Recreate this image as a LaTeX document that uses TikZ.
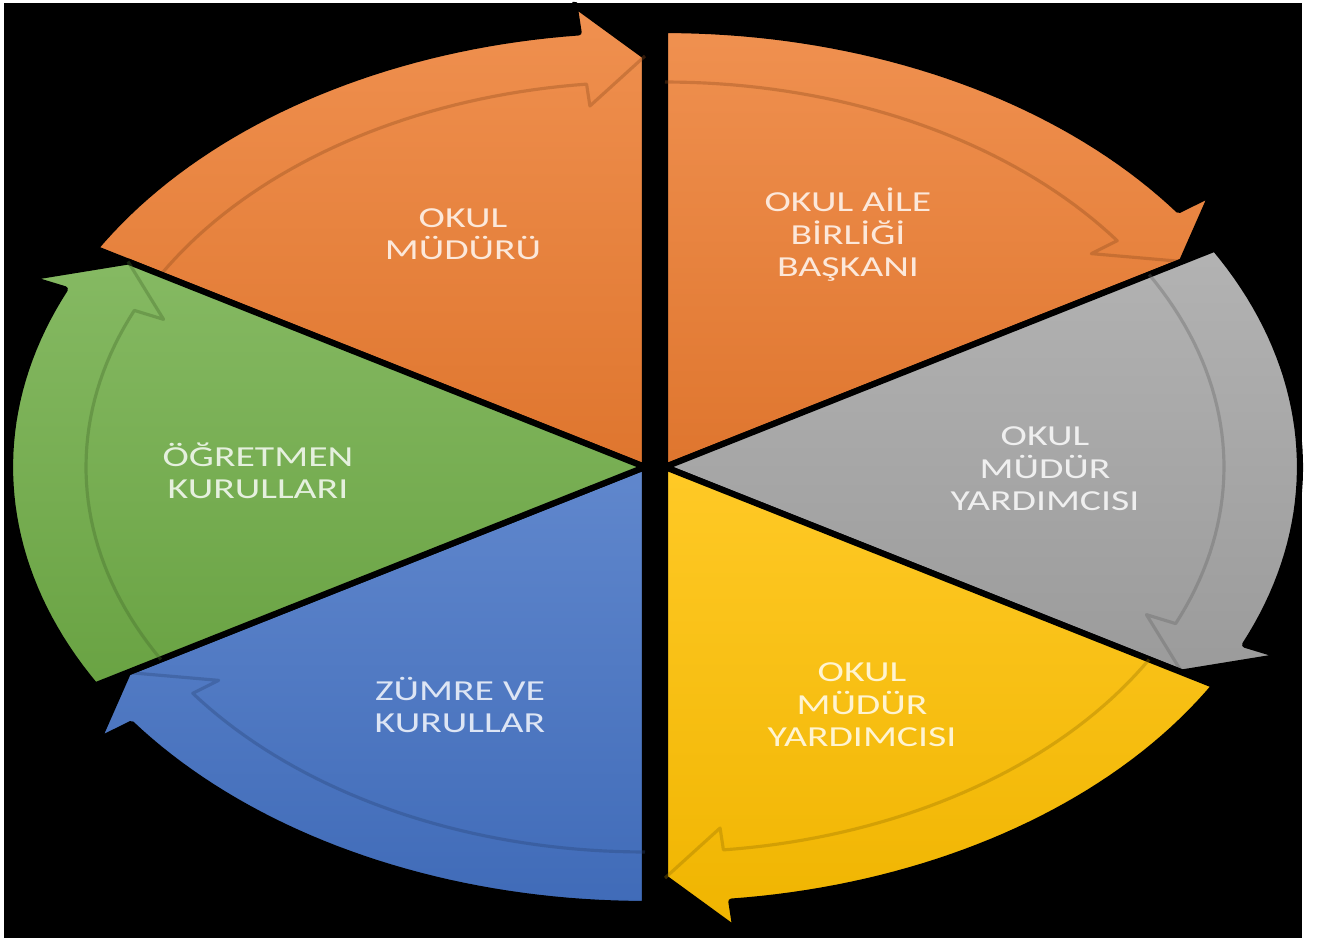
\documentclass[tikz,border=0pt]{standalone}
\usepackage{fontspec}
\setmainfont{Carlito}

\definecolor{segorange}{HTML}{ED7D31}
\definecolor{seggray}{HTML}{A5A5A5}
\definecolor{segyellow}{HTML}{FFC000}
\definecolor{segblue}{HTML}{4472C4}
\definecolor{seggreen}{HTML}{70AD47}

\tikzset{
  segpiece/.style={draw=black, line width=3.5pt, line join=round},
  segshadow/.style={line width=1.8pt, opacity=0.35, line join=round},
  seglabel/.style={align=center, font=\fontsize{16.5}{18.5}\selectfont, xscale=1.37, transform shape}
}

% one slice of the cycle: start angle, end angle, colour, shift
\newcommand{\cycleseg}[4]{%
  \begin{scope}[shift={(#4,0)}]
    \path[segpiece, top color=#3!85!white, bottom color=#3!94!black]
      (0,0) -- plot[domain=#1:#2+6, samples=40, variable=\t] ({635*cos(\t)},{437*sin(\t)})
      -- ({676*cos(#2+6)},{465*sin(#2+6)}) -- ({597*cos(#2)},{411*sin(#2)}) -- cycle;
    \draw[segshadow, #3!60!black]
      plot[domain=#1:#2+6, samples=40, variable=\t] ({559*cos(\t)},{385*sin(\t)})
      -- ({527*cos(#2+6)},{363*sin(#2+6)}) -- ({597*cos(#2)},{411*sin(#2)});
  \end{scope}}

\begin{document}
\begin{tikzpicture}[x=0.02cm, y=0.02cm]
    % Background:
    \useasboundingbox (-655,-470) rectangle (663,467);
    \fill[white] (-655,-470) rectangle (663,467);
    \fill[black] (-651,-475) rectangle (647,464);
    % Drawing:
    \cycleseg{150}{90}{segorange}{-10}
    \cycleseg{90}{30}{segorange}{10}
    \cycleseg{30}{-30}{seggray}{10}
    \cycleseg{-30}{-90}{segyellow}{10}
    \cycleseg{-90}{-150}{segblue}{-10}
    \cycleseg{-150}{-210}{seggreen}{-10}
    % Labels:
    \node[seglabel, text=segorange!18!white] (okulmuduru) at (-192,233) {OKUL\\MÜDÜRÜ};
    \node[seglabel, text=segorange!18!white] (aileBirligi) at (193,232) {OKUL AİLE\\BİRLİĞİ\\BAŞKANI};
    \node[seglabel, text=seggray!18!white] (yardimciA) at (390,-2) {OKUL\\MÜDÜR\\YARDIMCISI};
    \node[seglabel, text=segyellow!18!white] (yardimciB) at (207,-238) {OKUL\\MÜDÜR\\YARDIMCISI};
    \node[seglabel, text=segblue!18!white] (zumre) at (-195,-238) {ZÜMRE VE\\KURULLAR};
    \node[seglabel, text=seggreen!18!white] (ogretmen) at (-397,-4) {ÖĞRETMEN\\KURULLARI};
\end{tikzpicture}
\end{document}
